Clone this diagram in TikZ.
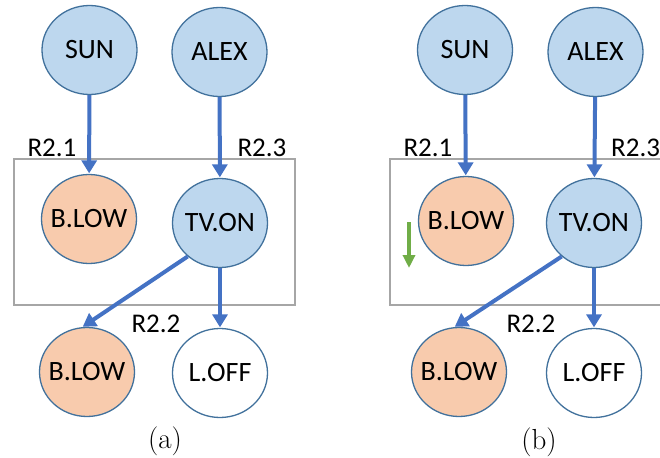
\documentclass[tikz,border=0pt]{standalone}
\usepackage{fontspec}
\setsansfont{Carlito}
\usetikzlibrary{shapes.geometric,arrows.meta}
\definecolor{nodeblue}{HTML}{BDD7EE}
\definecolor{nodeorange}{HTML}{F8CBAD}
\definecolor{nodeedge}{HTML}{41719C}
\definecolor{arrowblue}{HTML}{4472C4}
\definecolor{boxgray}{HTML}{A6A6A6}
\definecolor{downgreen}{HTML}{70AD47}
% zero-width text so the ellipse keeps its fixed size
\newcommand{\statetext}[1]{\makebox[0pt]{#1}}
\tikzset{
  state/.style={ellipse, draw=nodeedge, line width=1.3pt, inner sep=0pt,
    minimum width=95pt, minimum height=89pt,
    font=\sffamily\fontsize{28}{30}\selectfont},
  bluestate/.style={state, fill=nodeblue},
  orangestate/.style={state, fill=nodeorange},
  whitestate/.style={state, fill=white},
  link/.style={draw=arrowblue, line width=4pt,
    -{Triangle[width=15pt,length=13pt]}, shorten >=0.5pt},
  rulelabel/.style={anchor=base, inner sep=0pt,
    font=\sffamily\fontsize{27}{30}\selectfont},
  groupbox/.style={draw=boxgray, line width=2pt},
  caption/.style={inner sep=0pt, font=\fontsize{29}{32}\selectfont},
  trend/.style={draw=downgreen, line width=3.5pt,
    -{Triangle[width=12pt,length=13pt]}}
}
\begin{document}
\begin{tikzpicture}[x=1pt,y=-1pt]
\useasboundingbox (0,0) rectangle (660,457);
\clip (0,0) rectangle (660,457);

% ---------- panel (a) ----------
\draw[groupbox] (14,159) rectangle (295,305);
\node[bluestate]   (sunA)   at (89.5,50)  {\statetext{SUN}};
\node[bluestate]   (alexA)  at (219.5,52) {\statetext{ALEX}};
\node[orangestate] (blowA)  at (89,219)   {\statetext{B.LOW}};
\node[bluestate]   (tvA)    at (220,223)  {\statetext{TV.ON}};
\node[orangestate] (blowA2) at (87,372)   {\statetext{B.LOW}};
\node[whitestate]  (offA)   at (220,373)  {\statetext{L.OFF}};
\draw[link] (sunA) -- (blowA);
\draw[link] (alexA) -- (tvA);
\draw[link] (tvA.226) -- (blowA2.96);
\draw[link] (tvA) -- (offA);
\node[rulelabel] (r21A) at (52,157) {R2.1};
\node[rulelabel] (r23A) at (262,157) {R2.3};
\node[rulelabel] (r22A) at (156,332) {R2.2};
\node[caption] (capA) at (165,441) {(a)};

% ---------- panel (b) ----------
\draw[groupbox] (390,159) rectangle (680,305);
\node[bluestate]   (sunB)   at (465,50)   {\statetext{SUN}};
\node[bluestate]   (alexB)  at (595.5,52) {\statetext{ALEX}};
\node[orangestate] (blowB)  at (466,221)  {\statetext{B.LOW}};
\node[bluestate]   (tvB)    at (594,223)  {\statetext{TV.ON}};
\node[orangestate] (blowB2) at (459,372)  {\statetext{B.LOW}};
\node[whitestate]  (offB)   at (594,373)  {\statetext{L.OFF}};
\draw[link] (sunB) -- (blowB);
\draw[link] (alexB) -- (tvB);
\draw[link] (tvB.226) -- (blowB2.96);
\draw[link] (tvB) -- (offB);
\node[rulelabel] (r21B) at (428,157) {R2.1};
\node[rulelabel, anchor=base west] (r23B) at (611,157) {R2.3};
\node[rulelabel] (r22B) at (531,332) {R2.2};
\node[caption] (capB) at (539,442) {(b)};

% decrease marker next to the battery state
\coordinate (trendTop) at (409,222);
\coordinate (trendEnd) at (409,268);
\draw[trend] (trendTop) -- (trendEnd);
\end{tikzpicture}
\end{document}
